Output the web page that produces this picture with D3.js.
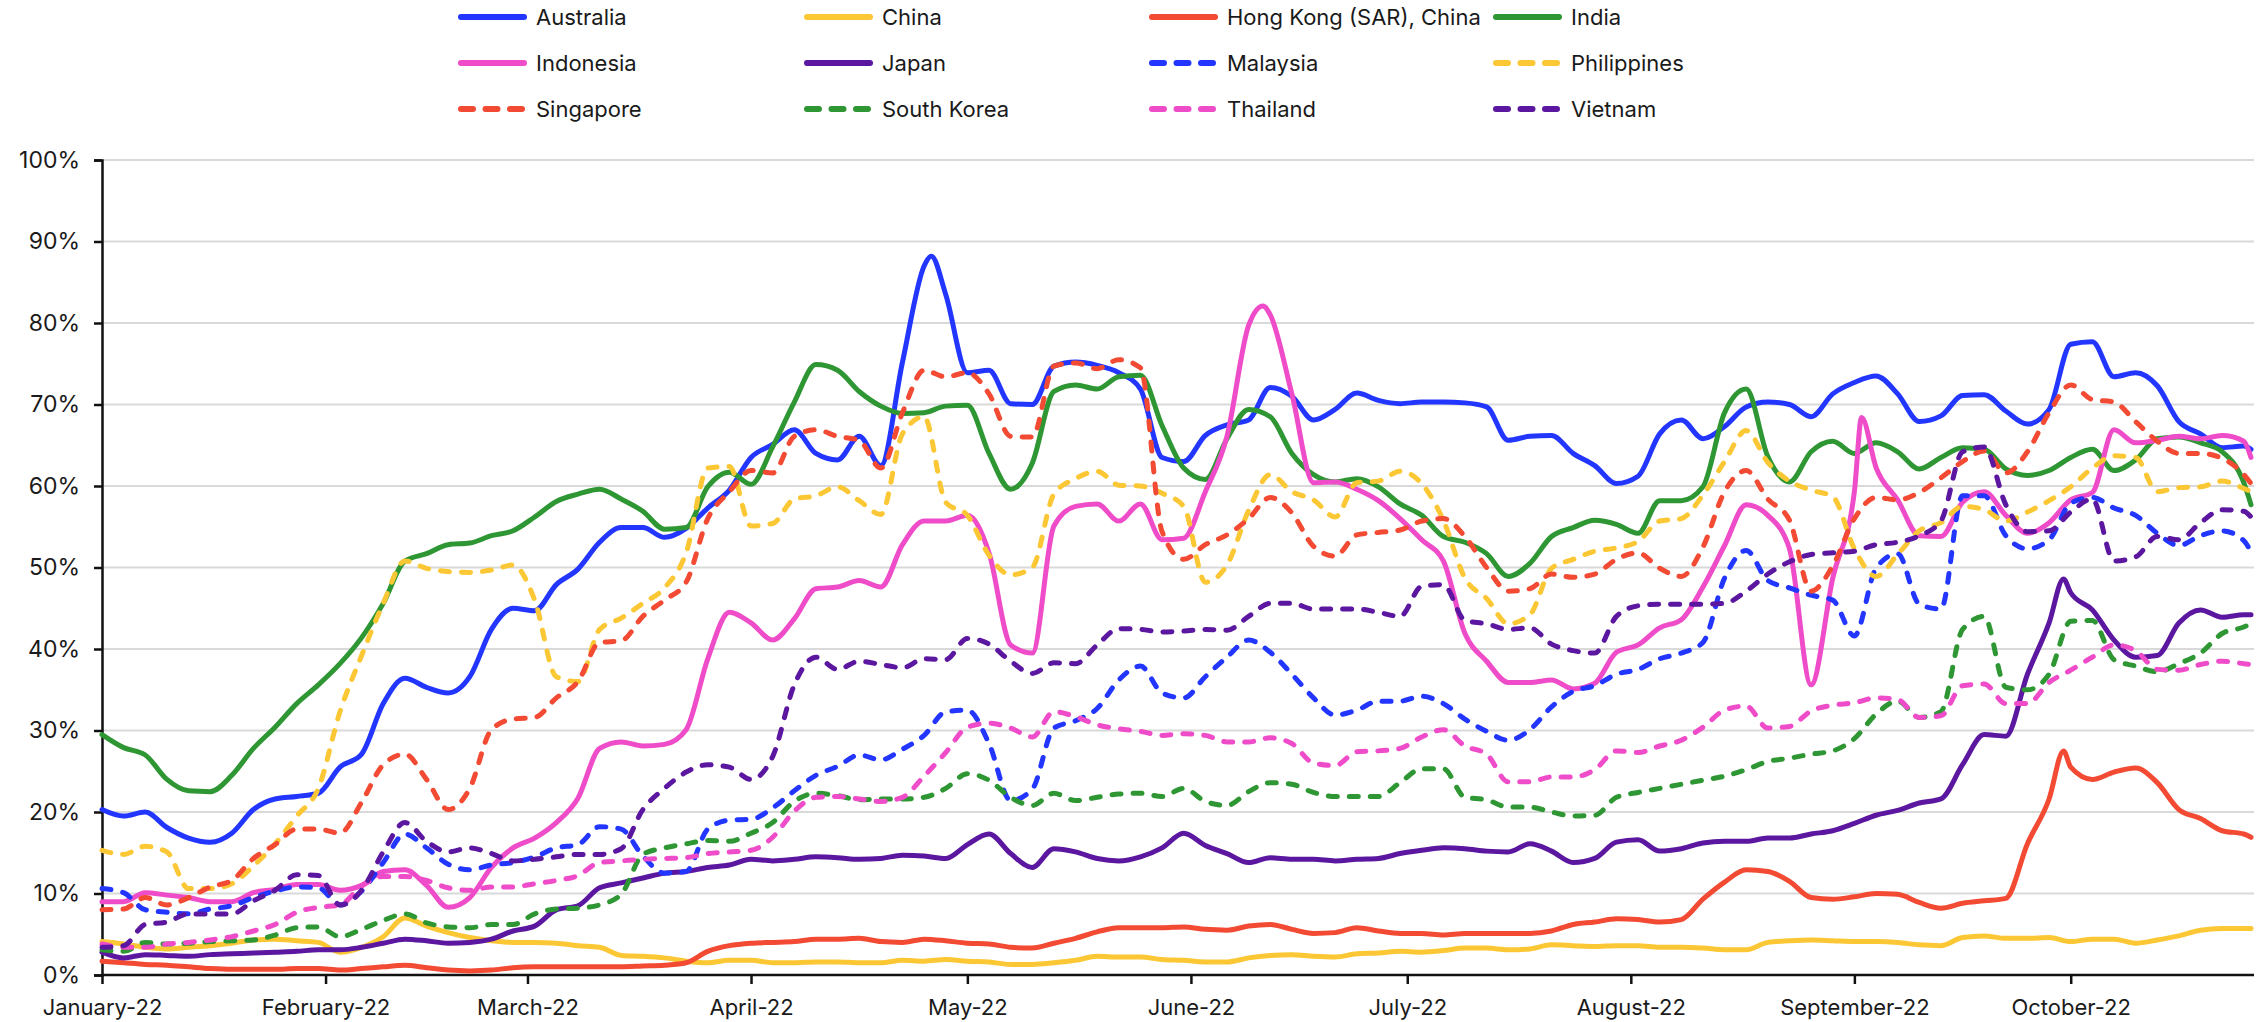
<!DOCTYPE html>
<html>
<head>
<meta charset="utf-8">
<script src="https://cdn.jsdelivr.net/npm/d3@7"></script>
<style>
  body { margin: 0; background: #fff; }
  svg text { font-family: Inter, "DejaVu Sans", sans-serif; fill: #1a1a1a; }
</style>
</head>
<body>
<script>
// dates (every 3 days + a few extra days on spikes)
var dates = [
 "2022-01-01","2022-01-04","2022-01-07","2022-01-10","2022-01-13","2022-01-16","2022-01-19","2022-01-22","2022-01-25","2022-01-28","2022-01-31",
 "2022-02-03","2022-02-06","2022-02-09","2022-02-12","2022-02-15","2022-02-18","2022-02-21","2022-02-24","2022-02-27",
 "2022-03-02","2022-03-05","2022-03-08",
 "2022-03-11","2022-03-14","2022-03-17","2022-03-20","2022-03-23","2022-03-26","2022-03-29",
 "2022-04-01","2022-04-04","2022-04-07","2022-04-10","2022-04-13","2022-04-16","2022-04-19","2022-04-22","2022-04-25","2022-04-26","2022-04-28",
 "2022-05-01","2022-05-04","2022-05-07","2022-05-10",
 "2022-05-13","2022-05-16","2022-05-19","2022-05-22","2022-05-25","2022-05-28","2022-05-31",
 "2022-06-03","2022-06-06","2022-06-09","2022-06-11","2022-06-12","2022-06-15","2022-06-18","2022-06-21","2022-06-24","2022-06-27","2022-06-30",
 "2022-07-03","2022-07-06","2022-07-09","2022-07-12",
 "2022-07-15","2022-07-18","2022-07-21","2022-07-24","2022-07-27","2022-07-30",
 "2022-08-02","2022-08-05","2022-08-08","2022-08-11","2022-08-14","2022-08-17","2022-08-20","2022-08-23","2022-08-26","2022-08-29",
 "2022-09-01","2022-09-02",
 "2022-09-04","2022-09-07","2022-09-10","2022-09-13","2022-09-16","2022-09-19","2022-09-22","2022-09-25","2022-09-28","2022-09-30",
 "2022-10-01","2022-10-04","2022-10-07","2022-10-10","2022-10-13","2022-10-16","2022-10-19","2022-10-22","2022-10-25","2022-10-26"
];

// values in %, null = not read on that day
var australia = [
 20.3,19.5,20.0,18.1,16.8,16.3,17.4,20.3,21.6,21.9,22.3,25.5,27.1,33.3,36.4,35.3,34.6,36.6,42.4,45.0,44.7,47.9,49.8,
 53.1,54.9,54.9,53.7,54.8,57.3,59.5,63.5,65.1,66.9,64.0,63.2,66.1,62.5,75.2,87.0,88.2,83.5,73.9,74.2,70.1,70.0,
 74.7,75.2,74.8,73.9,71.9,63.5,63.0,66.2,67.5,68.1,null,72.1,71.0,68.1,69.4,71.4,70.5,70.1,70.3,70.3,70.2,69.7,
 65.6,66.1,66.2,64.0,62.5,60.3,61.2,66.4,68.1,65.8,67.3,69.7,70.3,70.0,68.5,71.3,72.7,null,
 73.5,71.3,67.9,68.6,71.1,71.2,69.2,67.6,69.4,null,77.4,77.7,73.4,73.9,72.3,67.9,66.4,64.7,64.9,64.5
];
var china = [
 4.1,3.8,3.4,3.2,3.4,3.6,3.9,4.3,4.4,4.2,4.0,2.8,3.4,4.7,7.0,6.0,5.2,4.6,4.2,4.0,4.0,3.9,3.6,
 3.4,2.4,2.3,2.1,1.7,1.5,1.8,1.8,1.5,1.5,1.6,1.6,1.5,1.5,1.8,1.7,null,1.9,1.7,1.6,1.3,1.3,
 1.5,1.8,2.3,2.2,2.2,1.9,1.8,1.6,1.6,2.1,null,2.4,2.5,2.3,2.2,2.6,2.7,2.9,2.8,3.0,3.3,3.3,
 3.1,3.2,3.7,3.6,3.5,3.6,3.6,3.4,3.4,3.3,3.1,3.1,4.0,4.2,4.3,4.2,4.1,null,
 4.1,4.0,3.7,3.6,4.6,4.8,4.5,4.5,4.6,null,4.1,4.4,4.4,3.9,4.3,4.8,5.5,5.7,5.7,5.7
];
var hongKong = [
 1.7,1.5,1.3,1.2,1.0,0.8,0.7,0.7,0.7,0.8,0.8,0.6,0.8,1.0,1.2,0.9,0.6,0.5,0.6,0.9,1.0,1.0,1.0,
 1.0,1.0,1.1,1.2,1.5,2.9,3.6,3.9,4.0,4.1,4.4,4.4,4.5,4.1,4.0,4.4,null,4.2,3.9,3.8,3.4,3.3,
 3.9,4.5,5.3,5.8,5.8,5.8,5.9,5.6,5.5,6.0,null,6.2,5.6,5.1,5.2,5.8,5.4,5.1,5.1,4.9,5.1,5.1,
 5.1,5.1,5.4,6.2,6.5,6.9,6.8,6.5,6.8,9.3,11.4,12.9,12.7,11.5,9.5,9.3,9.6,null,
 10.0,9.9,8.9,8.2,8.8,9.1,9.4,16.1,21.6,27.5,25.5,24.0,24.9,25.4,23.6,20.3,19.2,17.7,17.3,16.9
];
var india = [
 29.5,27.9,27.0,24.0,22.6,22.5,24.5,27.8,30.4,33.3,35.6,38.2,41.4,45.6,50.8,51.7,52.8,53.0,53.9,54.5,56.2,58.1,59.0,
 59.6,58.4,56.9,54.7,54.9,59.9,61.7,60.2,64.8,70.3,74.9,74.2,71.6,69.8,68.9,69.0,null,69.8,69.9,64.0,59.6,62.8,
 71.6,72.4,71.9,73.4,73.6,67.4,62.2,60.8,65.8,69.4,null,68.5,64.0,61.4,60.5,60.9,59.9,57.8,56.4,53.8,53.1,51.7,
 48.9,50.5,53.8,54.9,55.8,55.3,54.2,58.2,58.2,59.9,69.0,71.9,63.6,60.5,64.2,65.5,64.0,null,
 65.3,64.2,62.1,63.5,64.7,64.5,62.1,61.3,61.9,null,63.5,64.5,61.9,63.2,65.8,66.0,65.3,64.2,60.4,57.7
];
var indonesia = [
 9.0,9.0,10.1,9.8,9.5,9.0,9.0,10.1,10.5,11.1,11.1,10.4,11.0,12.7,12.9,11.0,8.3,9.5,13.2,15.6,16.8,18.7,21.7,
 27.8,28.6,28.1,28.3,30.1,38.8,44.5,43.2,41.1,43.7,47.4,47.6,48.4,47.6,52.8,55.7,null,55.7,56.4,51.8,40.5,39.5,
 55.1,57.5,57.8,55.7,57.8,53.4,53.6,59.3,66.1,79.7,82.1,81.0,71.3,60.4,60.5,59.6,58.2,56.0,53.4,50.8,41.9,38.5,
 35.9,35.9,36.2,35.1,35.8,39.6,40.5,42.6,43.6,47.6,52.7,57.7,56.4,52.3,35.6,48.7,59.3,68.4,
 62.3,58.3,53.9,53.8,58.0,59.3,56.4,54.2,55.5,null,58.3,59.2,66.9,65.3,65.6,66.1,65.8,66.2,65.5,63.5
];
var japan = [
 2.8,2.1,2.5,2.4,2.3,2.5,2.6,2.7,2.8,2.9,3.1,3.1,3.4,3.9,4.4,4.2,3.9,4.0,4.4,5.4,6.0,8.0,8.5,
 10.7,11.3,11.9,12.5,12.7,13.2,13.5,14.2,14.0,14.2,14.5,14.4,14.2,14.3,14.7,14.6,null,14.3,16.0,17.3,14.9,13.2,
 15.5,15.1,14.3,14.0,14.5,15.6,17.4,15.9,14.9,13.8,null,14.4,14.2,14.2,14.0,14.2,14.3,14.9,15.3,15.6,15.5,15.2,
 15.1,16.1,15.2,13.8,14.3,16.3,16.6,15.2,15.5,16.2,16.4,16.4,16.8,16.8,17.3,17.7,18.6,null,
 19.6,20.2,21.1,21.6,25.8,29.5,29.3,36.9,43.2,48.6,46.9,44.8,41.1,39.0,39.2,43.2,44.8,43.9,44.2,44.2
];
var malaysia = [
 10.6,10.1,8.0,7.7,7.5,8.1,8.5,9.5,10.3,10.8,10.7,8.6,10.3,13.8,17.3,15.6,13.6,12.9,13.5,13.8,14.5,15.6,16.0,
 18.2,17.9,14.6,12.5,12.7,17.9,19.0,19.1,20.5,22.6,24.5,25.6,27.0,26.4,27.7,29.4,null,32.3,32.5,28.4,21.4,22.8,
 30.3,31.2,32.7,36.2,37.9,34.6,34.0,36.6,39.0,41.1,null,39.6,36.9,34.0,31.9,32.5,33.6,33.6,34.2,33.3,31.4,29.9,
 28.8,30.1,32.9,34.8,35.5,36.9,37.5,38.8,39.5,40.8,48.7,52.1,48.4,47.5,46.6,46.0,41.6,null,
 49.9,51.7,45.5,44.9,58.8,58.8,53.9,52.3,53.4,null,57.9,58.6,57.3,56.4,54.2,52.7,53.9,54.5,53.3,51.9
];
var philippines = [
 15.3,14.8,15.8,15.1,10.6,10.6,11.2,13.4,16.1,19.5,22.9,32.3,39.2,45.6,50.8,49.9,49.5,49.4,49.7,50.3,46.0,36.6,36.0,
 42.4,43.8,45.6,47.5,51.8,62.2,62.4,55.1,55.4,58.4,58.8,59.9,58.2,56.5,66.4,68.5,null,58.0,56.4,51.5,49.1,50.0,
 59.0,60.9,61.8,60.1,60.0,59.1,57.5,48.2,50.3,57.0,null,61.4,59.3,58.3,56.2,60.4,60.6,61.8,60.3,55.8,48.7,46.2,
 43.1,44.2,49.9,51.0,52.0,52.4,53.2,55.7,56.0,58.9,63.0,66.8,62.9,60.6,59.5,58.7,52.3,null,
 48.9,51.6,54.5,55.5,57.5,57.1,55.7,56.8,58.2,null,59.9,62.2,63.7,63.5,59.3,59.8,59.9,60.6,59.7,59.3
];
var singapore = [
 8.0,8.1,9.5,8.6,9.5,10.8,11.6,14.3,16.0,17.9,17.9,17.4,21.2,25.8,27.1,24.0,20.3,22.9,30.1,31.4,31.6,34.0,36.0,
 40.8,41.0,44.0,46.0,48.2,56.0,59.3,61.9,61.6,66.1,66.9,66.1,65.6,62.2,69.0,74.2,null,73.4,73.9,71.3,66.1,66.0,
 74.7,75.1,74.4,75.5,74.5,54.4,51.0,52.8,54.0,56.0,null,58.6,56.7,52.6,51.4,54.0,54.3,54.6,55.7,56.0,53.8,50.0,
 47.1,47.4,49.2,48.8,49.2,51.0,51.8,49.9,48.9,52.5,59.3,61.9,58.4,55.8,47.1,50.2,56.0,null,
 58.6,58.3,59.2,61.0,63.0,64.3,61.6,64.2,69.0,null,72.4,70.6,70.3,67.9,65.5,64.0,64.0,63.4,61.4,60.3
];
var southKorea = [
 3.1,2.9,4.0,3.8,3.9,4.1,4.2,4.3,4.9,5.8,5.9,4.7,5.6,6.7,7.5,6.4,5.9,5.8,6.2,6.2,7.5,8.1,8.2,
 8.6,9.9,14.8,15.6,16.1,16.5,16.4,17.4,18.7,21.3,22.3,22.0,21.5,21.6,21.6,21.8,null,22.9,24.7,23.9,21.8,20.8,
 22.3,21.4,21.8,22.2,22.3,21.9,22.9,21.3,20.8,22.5,null,23.6,23.4,22.4,21.9,21.9,21.9,23.6,25.3,25.3,21.8,21.5,
 20.6,20.6,20.0,19.5,19.6,21.8,22.4,22.9,23.4,23.9,24.4,25.2,26.2,26.6,27.1,27.5,29.0,null,
 32.0,33.6,31.6,32.3,42.4,44.0,35.3,35.0,36.9,null,43.4,43.5,38.7,37.9,37.2,38.2,39.5,41.9,42.7,43.1
];
var thailand = [
 3.8,3.4,3.4,3.8,4.0,4.3,4.7,5.4,6.2,7.7,8.3,8.6,10.9,12.1,12.1,11.6,10.7,10.4,10.8,10.8,11.2,11.6,12.2,
 13.8,14.0,14.2,14.3,14.4,14.9,15.1,15.3,16.9,20.1,21.8,21.9,21.6,21.3,21.8,24.4,null,27.3,30.4,30.9,30.3,29.2,
 32.3,31.7,30.7,30.2,29.9,29.4,29.6,29.4,28.6,28.6,null,29.1,28.4,26.0,25.7,27.4,27.5,27.8,29.2,30.1,28.1,27.1,
 23.7,23.7,24.3,24.3,25.2,27.5,27.3,28.1,28.8,30.4,32.5,33.0,30.3,30.5,32.4,33.1,33.4,null,
 34.0,33.8,31.6,31.8,35.5,35.7,33.3,33.3,35.9,null,37.4,39.0,40.5,39.8,37.5,37.4,38.1,38.5,38.2,38.1
];
var vietnam = [
 3.4,3.6,6.2,6.5,7.5,7.5,7.5,9.1,10.4,12.3,12.2,8.6,10.4,15.1,18.7,16.4,15.1,15.6,14.9,14.0,14.2,14.5,14.8,
 14.8,15.5,20.3,22.9,24.9,25.8,25.5,24.0,26.8,35.6,39.0,37.5,38.5,38.1,37.7,38.8,null,38.7,41.3,40.6,38.5,37.0,
 38.3,38.2,40.5,42.5,42.4,42.1,42.2,42.4,42.3,44.0,null,45.6,45.6,44.9,44.9,44.9,44.5,44.0,47.7,47.9,43.5,43.1,
 42.4,42.6,40.6,39.8,39.5,44.0,45.3,45.5,45.5,45.5,45.6,47.1,49.2,50.7,51.6,51.8,52.0,null,
 52.8,53.1,53.9,55.7,64.2,64.8,57.7,54.4,54.5,null,56.8,58.4,50.8,51.3,53.8,53.4,55.5,57.1,56.9,56.2
];

var yTicks = [0, 10, 20, 30, 40, 50, 60, 70, 80, 90, 100];
var monthTicks = ["2022-01-01","2022-02-01","2022-03-01","2022-04-01","2022-05-01","2022-06-01",
  "2022-07-01","2022-08-01","2022-09-01","2022-10-01"];

// legend order = draw order
var series = [
  { name: "Australia", values: australia, color: "#2236ff", dashed: false },
  { name: "China", values: china, color: "#fcc734", dashed: false },
  { name: "Hong Kong (SAR), China", values: hongKong, color: "#f24a33", dashed: false },
  { name: "India", values: india, color: "#2e9633", dashed: false },
  { name: "Indonesia", values: indonesia, color: "#ef4cc9", dashed: false },
  { name: "Japan", values: japan, color: "#5b179f", dashed: false },
  { name: "Malaysia", values: malaysia, color: "#2236ff", dashed: true },
  { name: "Philippines", values: philippines, color: "#fcc734", dashed: true },
  { name: "Singapore", values: singapore, color: "#f24a33", dashed: true },
  { name: "South Korea", values: southKorea, color: "#2e9633", dashed: true },
  { name: "Thailand", values: thailand, color: "#ef4cc9", dashed: true },
  { name: "Vietnam", values: vietnam, color: "#5b179f", dashed: true }
];

var width = 2256, height = 1022;
// plot box (note: "top" is taken by window.top, so prefixed names)
var plotLeft = 102, plotRight = 2251, plotTop = 160, plotBottom = 975;
var parse = d3.timeParse("%Y-%m-%d");

var svg = d3.select("body").append("svg")
  .attr("width", width)
  .attr("height", height);

var x = d3.scaleTime()
  .domain([parse("2022-01-01"), parse("2022-10-26")])
  .range([plotLeft, plotRight]);
var y = d3.scaleLinear().domain([0, 100]).range([plotBottom, plotTop]);

// grid
svg.append("g").selectAll("line")
  .data(yTicks.filter(function(t) { return t > 0; }))
  .enter().append("line")
  .attr("x1", plotLeft).attr("x2", 2254)
  .attr("y1", function(d) { return y(d); })
  .attr("y2", function(d) { return y(d); })
  .attr("stroke", "#d9d9d9")
  .attr("stroke-width", 2);

// y axis
var yAxis = svg.append("g")
  .attr("transform", "translate(" + plotLeft + ",0)")
  .call(d3.axisLeft(y).tickValues(yTicks).tickSize(8).tickPadding(14)
    .tickFormat(function(d) { return d + "%"; }));
yAxis.select(".domain").attr("stroke", "#111").attr("stroke-width", 2.5);
yAxis.selectAll(".tick line").attr("stroke", "#111").attr("stroke-width", 2.5);
yAxis.selectAll("text").style("font-size", "23px").attr("fill", "#1a1a1a");

// x axis
var xAxis = svg.append("g")
  .attr("transform", "translate(0," + plotBottom + ")")
  .call(d3.axisBottom(x).tickValues(monthTicks.map(parse)).tickSize(9).tickPadding(15)
    .tickFormat(d3.timeFormat("%B-%y")));
xAxis.select(".domain").attr("d", "M" + plotLeft + ",0H2254").attr("stroke", "#111").attr("stroke-width", 2.5);
xAxis.selectAll(".tick line").attr("stroke", "#111").attr("stroke-width", 2.5);
xAxis.selectAll("text").style("font-size", "22px").attr("fill", "#1a1a1a");

var line = d3.line()
  .x(function(d) { return x(d.t); })
  .y(function(d) { return y(d.v); })
  .curve(d3.curveMonotoneX);

svg.append("g").attr("class", "lines")
  .selectAll("path")
  .data(series)
  .enter().append("path")
  .attr("fill", "none")
  .attr("stroke", function(d) { return d.color; })
  .attr("stroke-width", 5)
  .attr("stroke-linejoin", "round")
  .attr("stroke-linecap", "round")
  .attr("stroke-dasharray", function(d) { return d.dashed ? "9,12" : null; })
  .attr("d", function(s) {
    if (s.values.length != dates.length) console.log("length mismatch", s.name, s.values.length);
    var pts = dates.map(function(t, i) { return { t: parse(t), v: s.values[i] }; })
      .filter(function(p) { return p.v != null; });
    return line(pts);
  });

// legend, 4 columns x 3 rows
var legX = [458, 804, 1149, 1493], legY = [17, 63, 109];
var leg = svg.append("g").attr("class", "legend")
  .selectAll("g")
  .data(series)
  .enter().append("g")
  .attr("transform", function(d, i) { return "translate(" + legX[i % 4] + "," + legY[Math.floor(i / 4)] + ")"; });
leg.append("line")
  .attr("x1", 3).attr("x2", 66)
  .attr("stroke", function(d) { return d.color; })
  .attr("stroke-width", 6)
  .attr("stroke-linecap", "round")
  .attr("stroke-dasharray", function(d) { return d.dashed ? "12,12.5" : null; });
leg.append("text")
  .attr("x", 78)
  .attr("dy", "0.35em")
  .style("font-size", "22px")
  .text(function(d) { return d.name; });
</script>
</body>
</html>
